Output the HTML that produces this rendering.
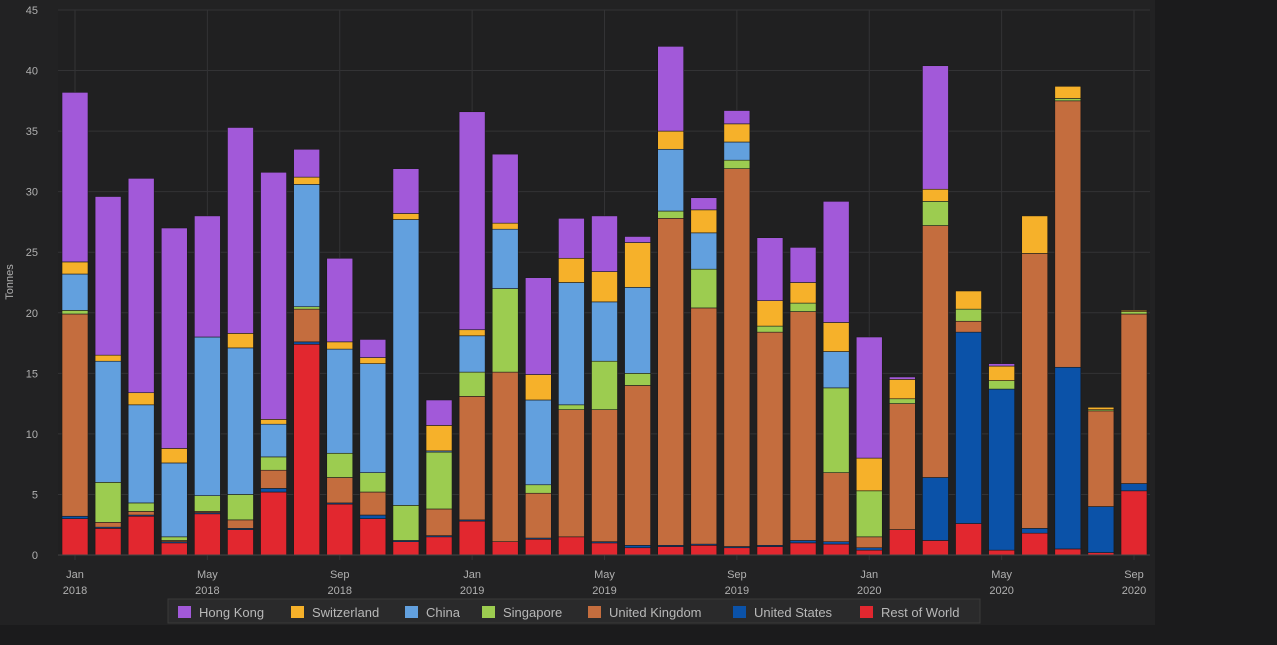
<!DOCTYPE html>
<html><head><meta charset="utf-8"><style>
html,body{margin:0;padding:0;background:#1b1b1c;width:1277px;height:645px;overflow:hidden}
svg text{font-family:"Liberation Sans",sans-serif}
</style></head><body>
<svg id="chart" width="1277" height="645" xmlns="http://www.w3.org/2000/svg">
<rect x="0" y="0" width="1155" height="625" fill="#222223"/>
<g id="grid"></g><g id="bars"></g><g id="axes"></g>
<text x="13" y="282" fill="#b0b0b0" font-size="11" text-anchor="middle" transform="rotate(-90 13 282)">Tonnes</text>
<g id="legend"></g>
</svg>
<script>
const months=["Jan","Feb","Mar","Apr","May","Jun","Jul","Aug","Sep","Oct","Nov","Dec"];
const categories=[];for(let y=2018;y<=2020;y++)for(let m=0;m<12;m++){if(y===2020&&m>8)break;categories.push(months[m]+" "+y);}
const seriesNames=["Rest of World","United States","United Kingdom","Singapore","China","Switzerland","Hong Kong"];
const seriesColors=["#e2272f","#0b52a8","#c46d3e","#9ccc50","#62a0de","#f6b12a","#a259d9"];
const restOfWorld=[3,2.2,3.2,1,3.4,2.1,5.2,17.4,4.2,3,1.1,1.5,2.8,1.1,1.3,1.5,1,0.6,0.7,0.8,0.6,0.7,1,0.9,0.4,2.1,1.2,2.6,0.4,1.8,0.5,0.2,5.3];
const unitedStates=[0.2,0.1,0.1,0.1,0.1,0.1,0.3,0.2,0.1,0.3,0.1,0.1,0.1,0,0.1,0,0.1,0.2,0.1,0.1,0.1,0.1,0.2,0.2,0.2,0,5.2,15.8,13.3,0.4,15,3.8,0.6];
const unitedKingdom=[16.7,0.4,0.3,0.1,0.1,0.7,1.5,2.7,2.1,1.9,0,2.2,10.2,14,3.7,10.5,10.9,13.2,27,19.5,31.2,17.6,18.9,5.7,0.9,10.4,20.8,0.9,0,22.7,22,7.9,14];
const singapore=[0.3,3.3,0.7,0.3,1.3,2.1,1.1,0.2,2,1.6,2.9,4.7,2,6.9,0.7,0.4,4,1,0.6,3.2,0.7,0.5,0.7,7,3.8,0.4,2,1,0.7,0,0.2,0.1,0.2];
const china=[3,10,8.1,6.1,13.1,12.1,2.7,10.1,8.6,9,23.6,0.1,3,4.9,7,10.1,4.9,7.1,5.1,3,1.5,0,0,3,0,0,0,0,0,0,0,0,0];
const switzerland=[1,0.5,1,1.2,0,1.2,0.4,0.6,0.6,0.5,0.5,2.1,0.5,0.5,2.1,2,2.5,3.7,1.5,1.9,1.5,2.1,1.7,2.4,2.7,1.6,1,1.5,1.2,3.1,1,0.2,0.1];
const hongKong=[14,13.1,17.7,18.2,10,17,20.4,2.3,6.9,1.5,3.7,2.1,18,5.7,8,3.3,4.6,0.5,7,1,1.1,5.2,2.9,10,10,0.2,10.2,0,0.2,0,0,0,0];
const yTicks=[0,5,10,15,20,25,30,35,40,45];
const xTickIdx=[0,4,8,12,16,20,24,28,32];
const legendOrder=["Hong Kong","Switzerland","China","Singapore","United Kingdom","United States","Rest of World"];

const series=[restOfWorld,unitedStates,unitedKingdom,singapore,china,switzerland,hongKong];
const NS="http://www.w3.org/2000/svg";
const L=58,R=1150,T=10,B=555;
const x0=75,x1=1134;
const xs=i=>x0+(x1-x0)*i/(categories.length-1);
const ys=v=>B-(B-T)*v/45;
function mk(tag,attrs,parent){const e=document.createElementNS(NS,tag);for(const k in attrs)e.setAttribute(k,attrs[k]);parent.appendChild(e);return e;}
const grid=document.getElementById('grid'),bars=document.getElementById('bars'),axes=document.getElementById('axes'),leg=document.getElementById('legend');
mk('rect',{x:L,y:T,width:R-L,height:B-T,fill:"#202021"},grid);
yTicks.forEach(t=>{
  const g=mk('line',{x1:L,x2:R,y1:ys(t),y2:ys(t),stroke:"#333335","stroke-width":1},grid);
  
  
  const tx=mk('text',{x:38,y:ys(t)+4,fill:"#b0b0b0","font-size":11,"text-anchor":"end"},axes);
  tx.textContent=t;
  
  
});
xTickIdx.forEach(i=>{
  const g=mk('line',{x1:xs(i),x2:xs(i),y1:T,y2:B+5,stroke:"#333335","stroke-width":1},grid);
  
  
  const [m,y]=categories[i].split(" ");
  const t1=mk('text',{x:xs(i),y:578,fill:"#b0b0b0","font-size":11,"text-anchor":"middle"},axes);t1.textContent=m;
  
  
  const t2=mk('text',{x:xs(i),y:594,fill:"#b0b0b0","font-size":11,"text-anchor":"middle"},axes);t2.textContent=y;
  
  
});
mk('line',{x1:L,x2:R,y1:B,y2:B,stroke:"#444",'stroke-width':1},axes);
const bw=26;
categories.forEach((c,i)=>{
  let cum=0;
  series.forEach((s,k)=>{
    const v=s[i];if(v<=0)return;
    const r=mk('rect',{x:xs(i)-bw/2,y:ys(cum+v),width:bw,height:ys(cum)-ys(cum+v),fill:seriesColors[k],stroke:"#1a1a1a","stroke-width":0.6},bars);
    
    
    cum+=v;
  });
});
mk('rect',{x:168,y:599,width:812,height:24,fill:"#2a2a2b",stroke:"#3a3a3a"},leg);
const legX=[178,291,405,482,588,733,860];
legendOrder.forEach((n,j)=>{
  const k=seriesNames.indexOf(n);
  const sw=mk('rect',{x:legX[j],y:606,width:13,height:12,fill:seriesColors[k]},leg);
  
  
  const t=mk('text',{x:legX[j]+21,y:617,fill:"#b8b8b8","font-size":13},leg);t.textContent=n;
  
  
});
</script>
</body></html>
